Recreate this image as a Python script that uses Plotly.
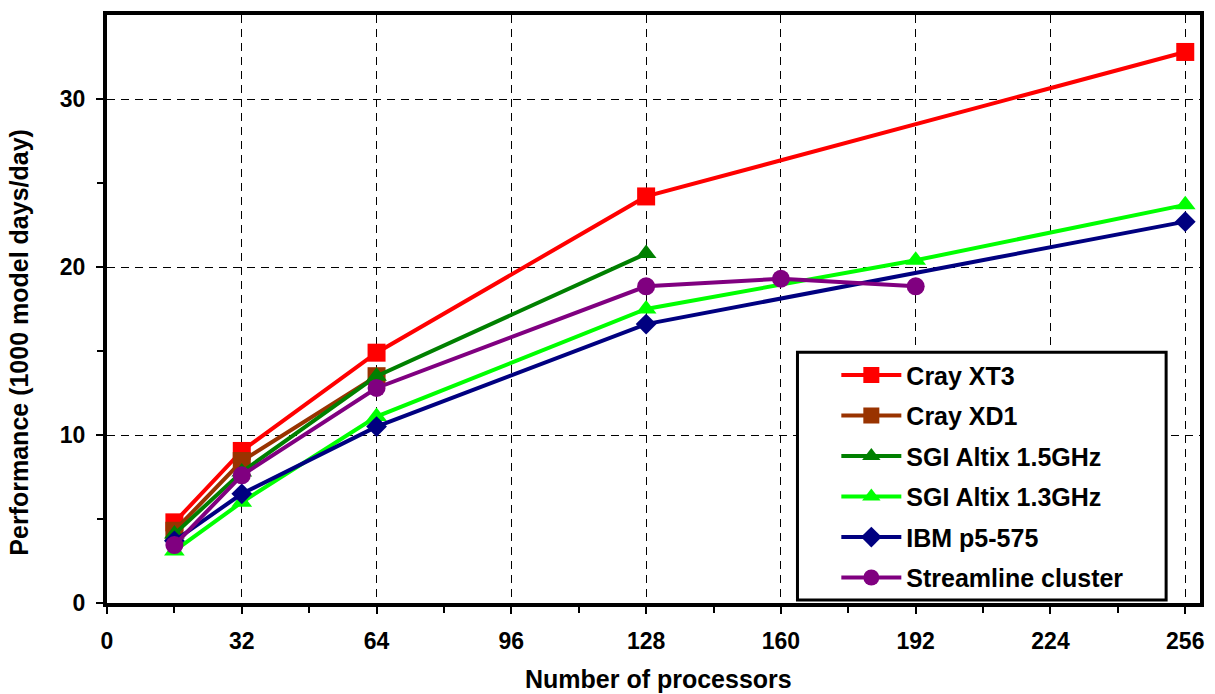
import plotly.graph_objects as go

# Data
procs_xt3 = [16, 32, 64, 128, 256]
perf_xt3 = [4.8, 9.05, 14.9, 24.2, 32.8]

procs_xd1 = [16, 32, 64]
perf_xd1 = [4.3, 8.45, 13.5]

procs_altix15 = [16, 32, 64, 128]
perf_altix15 = [4.1, 7.8, 13.5, 20.8]

procs_altix13 = [16, 32, 64, 128, 192, 256]
perf_altix13 = [3.1, 6.0, 11.1, 17.5, 20.4, 23.7]

procs_ibm = [16, 32, 64, 128, 256]
perf_ibm = [3.7, 6.5, 10.5, 16.6, 22.7]

procs_stream = [16, 32, 64, 128, 160, 192]
perf_stream = [3.45, 7.6, 12.8, 18.85, 19.3, 18.85]

x_ticks = [0, 32, 64, 96, 128, 160, 192, 224, 256]
y_ticks = [0, 10, 20, 30]

x_title = "Number of processors"
y_title = "Performance (1000 model days/day)"

series = [
    ("Cray XT3", procs_xt3, perf_xt3, "#FF0000", "square", 18),
    ("Cray XD1", procs_xd1, perf_xd1, "#993300", "square", 18),
    ("SGI Altix 1.5GHz", procs_altix15, perf_altix15, "#008000", "triangle-up", 18),
    ("SGI Altix 1.3GHz", procs_altix13, perf_altix13, "#00FF00", "triangle-up", 18),
    ("IBM p5-575", procs_ibm, perf_ibm, "#000080", "diamond", 16),
    ("Streamline cluster", procs_stream, perf_stream, "#800080", "circle", 18),
]

fig = go.Figure()
for i, (name, xs, ys, color, sym, size) in enumerate(series):
    fig.add_trace(go.Scatter(
        x=xs, y=ys, name=name, mode="lines+markers",
        line=dict(color=color, width=4),
        marker=dict(color=color, symbol=sym, size=size, line=dict(width=0)),
        legendgroup=f"g{i}",
    ))

FONT = "Liberation Sans, Arial, sans-serif"

L, R, T, B = 107, 11, 12, 91
PW, PH = 1215 - L - R, 694 - T - B

fig.update_layout(
    width=1215, height=694,
    margin=dict(l=L, r=R, t=T, b=B),
    paper_bgcolor="white", plot_bgcolor="white",
    font=dict(family=FONT, size=22, color="black", weight="bold"),
    showlegend=True,
    legend=dict(
        x=(839 - L) / PW, y=(603 - 351) / PH, xanchor="left", yanchor="top",
        bgcolor="rgba(0,0,0,0)", borderwidth=0,
        font=dict(family=FONT, size=25, color="black", weight="bold"),
        tracegroupgap=5, traceorder="grouped", itemwidth=60,
    ),
    shapes=[dict(
        type="rect", xref="paper", yref="paper",
        x0=(800 - L) / PW, x1=(1170 - L) / PW,
        y0=(603 - 600) / PH, y1=(603 - 351) / PH,
        line=dict(color="black", width=3), fillcolor="white", layer="above",
    )],
    annotations=[
        dict(text=x_title, xref="paper", yref="paper",
             x=(661 - L) / PW, y=(603 - 679) / PH, xanchor="center", yanchor="middle",
             showarrow=False, font=dict(size=25, family=FONT, weight="bold", color="black")),
        dict(text=y_title, xref="paper", yref="paper", textangle=-90,
             x=(19 - L) / PW, y=(603 - 341) / PH, xanchor="center", yanchor="middle",
             showarrow=False, font=dict(size=25, family=FONT, weight="bold", color="black")),
    ],
)

fig.update_xaxes(
    range=[0, 259.5], tickvals=x_ticks, ticktext=[str(v) for v in x_ticks],
    showline=True, linecolor="black", linewidth=4, mirror=True,
    showgrid=True, gridcolor="black", gridwidth=1, griddash="8px,6px",
    zeroline=False, ticks="outside", ticklen=7, tickwidth=2, tickcolor="black",
    minor=dict(tickvals=[16, 48, 80, 112, 144, 176, 208, 240], ticks="outside",
               ticklen=6, tickwidth=2, tickcolor="black", showgrid=False),
    ticklabelstandoff=7,
    tickfont=dict(size=23, family=FONT, weight="bold"),
)
fig.update_yaxes(
    range=[0, 35], tickvals=y_ticks, ticktext=[str(v) for v in y_ticks],
    showline=True, linecolor="black", linewidth=4, mirror=True,
    showgrid=True, gridcolor="black", gridwidth=1, griddash="8px,6px",
    zeroline=False, ticks="outside", ticklen=7, tickwidth=2, tickcolor="black",
    minor=dict(tickvals=[5, 15, 25], ticks="outside",
               ticklen=6, tickwidth=2, tickcolor="black", showgrid=False),
    ticklabelstandoff=6,
    tickfont=dict(size=23, family=FONT, weight="bold"),
)

fig.write_html("out.html")
